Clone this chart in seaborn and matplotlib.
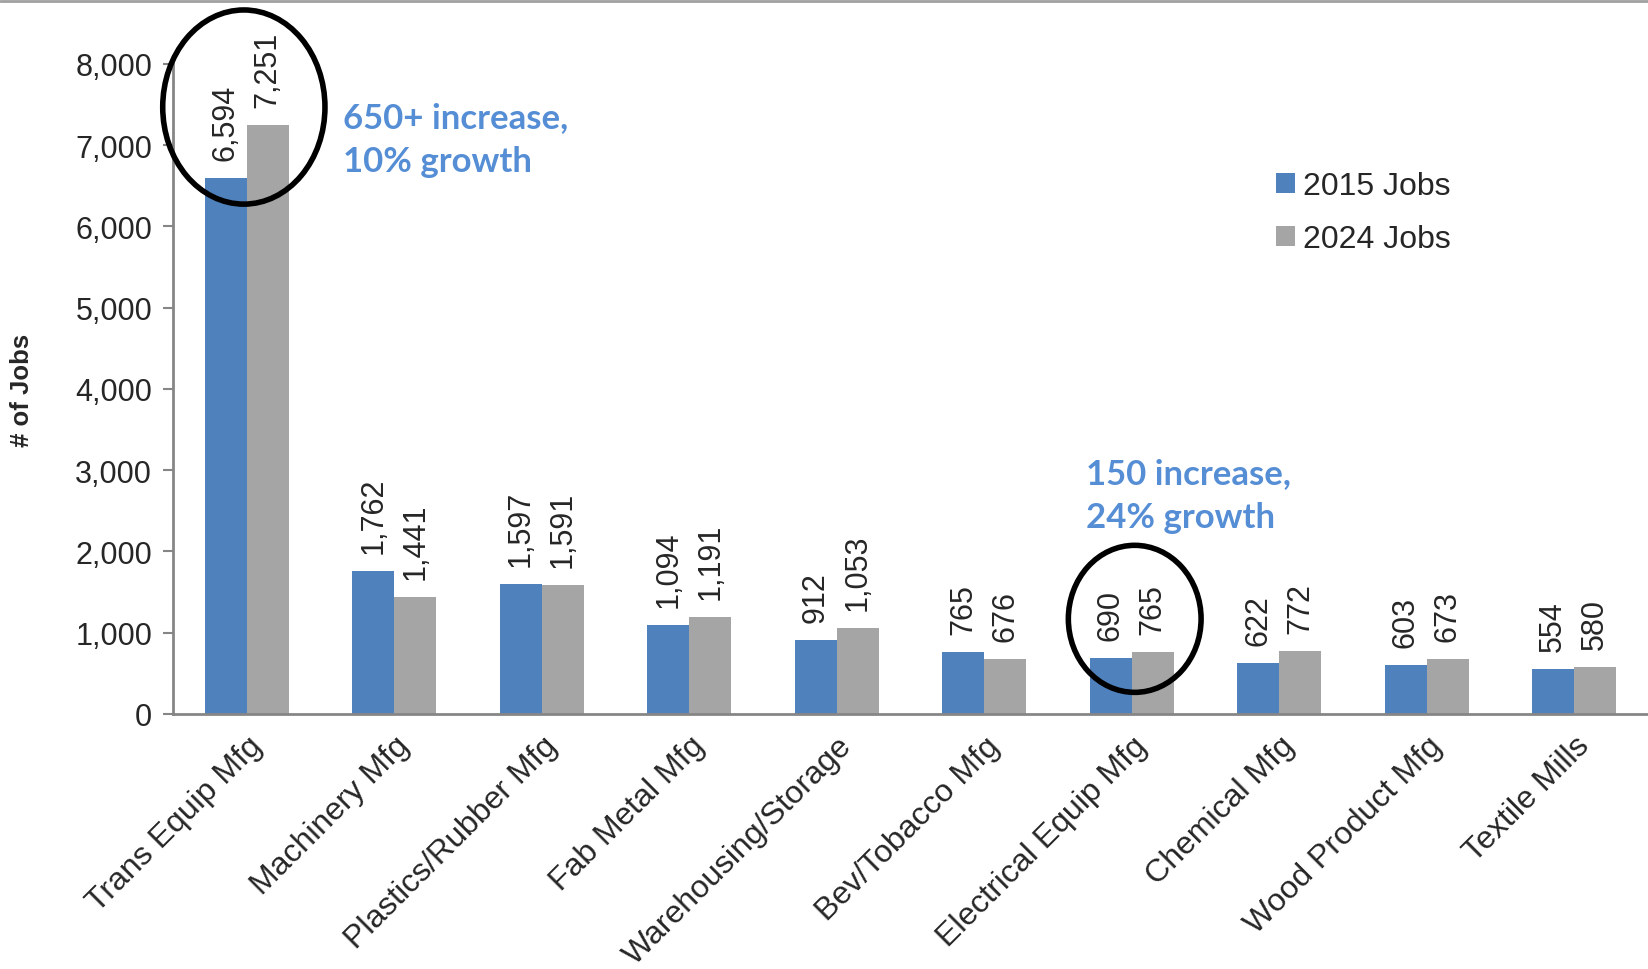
import matplotlib
matplotlib.use("Agg")
import matplotlib.pyplot as plt
import matplotlib.transforms as mtransforms
from matplotlib.patches import Ellipse
from matplotlib.lines import Line2D
import seaborn as sns
import pandas as pd

# data
categories = ["Trans Equip Mfg", "Machinery Mfg", "Plastics/Rubber Mfg", "Fab Metal Mfg",
              "Warehousing/Storage", "Bev/Tobacco Mfg", "Electrical Equip Mfg",
              "Chemical Mfg", "Wood Product Mfg", "Textile Mills"]
jobs_2015 = [6594, 1762, 1597, 1094, 912, 765, 690, 622, 603, 554]
jobs_2024 = [7251, 1441, 1591, 1191, 1053, 676, 765, 772, 673, 580]
series = ["2015 Jobs", "2024 Jobs"]
y_ticks = [0, 1000, 2000, 3000, 4000, 5000, 6000, 7000, 8000]

df = pd.DataFrame({
    "Industry": categories * 2,
    "Jobs": jobs_2015 + jobs_2024,
    "Series": [series[0]] * len(categories) + [series[1]] * len(categories),
})

sns.set_style("white")
plt.rcParams['font.family'] = ['Liberation Sans', 'DejaVu Sans']

blue = "#4F81BD"
gray = "#A5A5A5"
note_blue = "#558ED5"
axis_gray = "#868686"

fig = plt.figure(figsize=(16.48, 9.70), dpi=100)
ax = fig.add_axes([0.105, 0.263, 0.895, 0.670])

sns.barplot(data=df, x="Industry", y="Jobs", hue="Series", palette=[blue, gray],
            width=0.57, gap=0, saturation=1, linewidth=0, ax=ax)

# value labels
for cont in ax.containers:
    ax.bar_label(cont, labels=[f"{v:,.0f}" for v in cont.datavalues],
                 rotation=90, padding=13, fontsize=22)

ax.set_ylim(0, 8000)
ax.set_xlim(-0.5, len(categories) - 0.5)
ax.set_yticks(y_ticks)
ax.set_yticklabels([f"{t:,}" for t in y_ticks], fontsize=22)
ax.set_xticks(range(len(categories)))
ax.set_xticklabels(categories, fontsize=23, rotation=45, ha="right",
                   va="top", rotation_mode="anchor")
offset = mtransforms.ScaledTranslation(20 / 100, -2 / 100, fig.dpi_scale_trans)
for lab in ax.get_xticklabels():
    lab.set_transform(lab.get_transform() + offset)
ax.set_xticks([i - 0.5 for i in range(len(categories) + 1)], minor=True)
ax.tick_params(axis="x", which="major", length=0, pad=12)
ax.tick_params(axis="x", which="minor", length=8, width=1.5, color=axis_gray)
ax.tick_params(axis="y", length=7, width=1.5, color=axis_gray, pad=8, left=True)

ax.set_xlabel("")
ax.set_ylabel("# of Jobs", fontsize=18.5, fontweight="bold", labelpad=30)

for s in ["top", "right"]:
    ax.spines[s].set_visible(False)
for s in ["left", "bottom"]:
    ax.spines[s].set_color(axis_gray)
    ax.spines[s].set_linewidth(2)

# legend
handles, labels = ax.get_legend_handles_labels()
ax.legend(handles, labels, loc="upper left", bbox_to_anchor=(0.757, 0.852),
          bbox_transform=fig.transFigure, frameon=False, fontsize=23,
          handlelength=0.6, handleheight=0.6, handletextpad=0.25,
          labelspacing=0.72)

# circled highlights
ax.add_patch(Ellipse((-0.02, 7470), 1.10, 2390, fill=False, edgecolor="black",
                     linewidth=4, clip_on=False, zorder=5))
ax.add_patch(Ellipse((6.02, 1170), 0.90, 1810, fill=False, edgecolor="black",
                     linewidth=4, clip_on=False, zorder=5))

ax.text(0.65, 7080, "650+ increase,\n10% growth", color=note_blue, fontsize=25,
        fontweight="bold", family=["Lato", "DejaVu Sans"], va="center", ha="left",
        linespacing=1.45)
ax.text(5.69, 2690, "150 increase,\n24% growth", color=note_blue, fontsize=25,
        fontweight="bold", family=["Lato", "DejaVu Sans"], va="center", ha="left",
        linespacing=1.45)

# thin border line at top of the image
fig.add_artist(Line2D([0, 1], [0.998, 0.998], transform=fig.transFigure,
                      color="#A0A0A0", linewidth=2))

fig.savefig("out.png", dpi=100)
